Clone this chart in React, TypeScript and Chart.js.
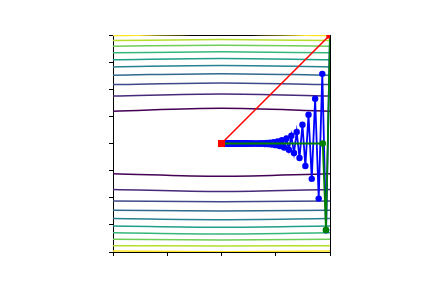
import React, { useEffect, useRef } from "react";
import { Chart, registerables } from "chart.js";

Chart.register(...registerables);

// Axis tick positions (no labels shown)
const xTicks = [-1, -0.5, 0, 0.5, 1];
const yTicks = [-1, -0.75, -0.5, -0.25, 0, 0.25, 0.5, 0.75, 1];

// Contour levels (viridis, inner -> outer)
const contourColors = ["#440154", "#482878", "#3e4989", "#31688e", "#26828e", "#1f9e89", "#35b779", "#6ece58", "#b5de2b", "#fde725"];
const topCenterY = [0.324, 0.457, 0.558, 0.644, 0.718, 0.783, 0.845, 0.906, 0.958, 1.009];
const topEdgeY = [0.298, 0.438, 0.543, 0.629, 0.706, 0.771, 0.836, 0.897, 0.949, 0.995];
const bottomCenterY = [-0.302, -0.443, -0.538, -0.621, -0.702, -0.772, -0.834, -0.889, -0.945, -0.997];
const bottomEdgeY = [-0.278, -0.424, -0.529, -0.615, -0.692, -0.76, -0.822, -0.883, -0.942, -0.991];
const contourX = [-1, 0, 1];

// Blue path (zig-zag descent)
const blueX = [1.0, 0.964, 0.929, 0.896, 0.863, 0.832, 0.802, 0.773, 0.746, 0.719, 0.693, 0.668, 0.644, 0.621, 0.599, 0.577, 0.556, 0.536, 0.517, 0.498, 0.48, 0.463, 0.446, 0.43, 0.415, 0.4, 0.385, 0.371, 0.358, 0.345, 0.333, 0.321, 0.309, 0.298, 0.287, 0.277, 0.267, 0.257, 0.248, 0.239, 0.231, 0.222, 0.214, 0.207, 0.199, 0.192, 0.185, 0.178, 0.172, 0.166, 0.16, 0.154, 0.149, 0.143, 0.138, 0.133, 0.128, 0.124, 0.119, 0.115, 0.111, 0.107, 0.103, 0.099, 0.096, 0.092, 0.089, 0.086, 0.083, 0.08, 0.077, 0.074, 0.071, 0.069, 0.066, 0.064, 0.062, 0.059, 0.057, 0.055, 0.053, 0.051, 0.049, 0.048, 0.046, 0.044, 0.043, 0.041, 0.04, 0.038, 0.037, 0.036, 0.034, 0.033, 0.032, 0.031, 0.03, 0.029, 0.028, 0.027, 0.026];
const blueY = [1.0, -0.8, 0.642, -0.508, 0.413, -0.326, 0.266, -0.208, 0.173, -0.134, 0.106, -0.088, 0.072, -0.058, 0.046, -0.037, 0.03, -0.024, 0.019, -0.015, 0.012, -0.01, 0.008, -0.006, 0.005, -0.004, 0.003, -0.003, 0.002, -0.002, 0.001, -0.001, 0.001, -0.001, 0, 0, 0, 0, 0, 0, 0, 0, 0, 0, 0, 0, 0, 0, 0, 0, 0, 0, 0, 0, 0, 0, 0, 0, 0, 0, 0, 0, 0, 0, 0, 0, 0, 0, 0, 0, 0, 0, 0, 0, 0, 0, 0, 0, 0, 0, 0, 0, 0, 0, 0, 0, 0, 0, 0, 0, 0, 0, 0, 0, 0, 0, 0, 0, 0, 0, 0];

// Green path
const greenX = [1.0, 0.963, 0.933, 0.0];
const greenY = [1.0, -0.797, 0.0, 0.0];

// Red path
const redX = [0.0, 1.0];
const redY = [0.0, 1.0];

const zip = (xs: number[], ys: number[]) => xs.map((x, i) => ({ x, y: ys[i] }));

export default function App() {
  const ref = useRef<HTMLCanvasElement | null>(null);

  useEffect(() => {
    if (!ref.current) return;
    const contourSets: any[] = [];
    contourColors.forEach((c, i) => {
      contourSets.push({
        data: zip(contourX, [topEdgeY[i], topCenterY[i], topEdgeY[i]]),
        borderColor: c,
        borderWidth: 1.5,
        pointRadius: 0,
        cubicInterpolationMode: "monotone",
        order: 10 + i,
        clip: 0,
      });
      contourSets.push({
        data: zip(contourX, [bottomEdgeY[i], bottomCenterY[i], bottomEdgeY[i]]),
        borderColor: c,
        borderWidth: 1.5,
        pointRadius: 0,
        cubicInterpolationMode: "monotone",
        order: 10 + i,
        clip: 0,
      });
    });

    const chart = new Chart(ref.current, {
      type: "line",
      data: {
        datasets: [
          {
            data: zip(redX, redY),
            borderColor: "#ff0000",
            backgroundColor: "#ff0000",
            borderWidth: 1.5,
            pointStyle: "rect",
            pointRadius: 5,
            pointBorderWidth: 0,
            pointBackgroundColor: "#ff0000",
            order: 0,
            clip: 0,
          },
          {
            data: zip(greenX, greenY),
            borderColor: "#008000",
            backgroundColor: "#008000",
            borderWidth: 1.8,
            pointRadius: 3.3,
            pointBorderWidth: 0,
            pointBackgroundColor: "#008000",
            order: 1,
            clip: 0,
          },
          {
            data: zip(blueX, blueY),
            borderColor: "#0000ff",
            backgroundColor: "#0000ff",
            borderWidth: 1.8,
            pointRadius: 3.2,
            pointBorderWidth: 0,
            pointBackgroundColor: "#0000ff",
            order: 2,
            clip: 0,
          },
          ...contourSets,
        ],
      },
      options: {
        animation: false,
        responsive: false,
        events: [],
        layout: { padding: { left: 113, top: 35, right: 102, bottom: 36 } },
        plugins: { legend: { display: false }, tooltip: { enabled: false } },
        scales: {
          x: {
            type: "linear",
            position: "bottom",
            min: -1,
            max: 1,
            afterBuildTicks: (s: any) => {
              s.ticks = xTicks.map((v) => ({ value: v }));
            },
            afterFit: (s: any) => {
              s.height = 0;
            },
            ticks: { display: false },
            grid: { drawOnChartArea: false, drawTicks: true, tickLength: 4, tickColor: "#000", tickWidth: 1, color: "#000" },
            border: { display: true, color: "#000", width: 1 },
          },
          y: {
            type: "linear",
            position: "left",
            min: -1,
            max: 1,
            afterBuildTicks: (s: any) => {
              s.ticks = yTicks.map((v) => ({ value: v }));
            },
            afterFit: (s: any) => {
              s.width = 0;
            },
            ticks: { display: false },
            grid: { drawOnChartArea: false, drawTicks: true, tickLength: 4, tickColor: "#000", tickWidth: 1, color: "#000" },
            border: { display: true, color: "#000", width: 1 },
          },
          xTop: {
            type: "linear",
            position: "top",
            min: -1,
            max: 1,
            afterFit: (s: any) => {
              s.height = 0;
            },
            ticks: { display: false },
            grid: { display: false },
            border: { display: true, color: "#000", width: 1 },
          },
          yRight: {
            type: "linear",
            position: "right",
            min: -1,
            max: 1,
            afterFit: (s: any) => {
              s.width = 0;
            },
            ticks: { display: false },
            grid: { display: false },
            border: { display: true, color: "#000", width: 1 },
          },
        },
      },
    });
    return () => chart.destroy();
  }, []);

  return (
    <div style={{ position: "fixed", left: 0, top: 0, width: 432, height: 288, background: "#fff" }}>
      <canvas ref={ref} width={432} height={288} style={{ width: 432, height: 288, display: "block" }} />
    </div>
  );
}
